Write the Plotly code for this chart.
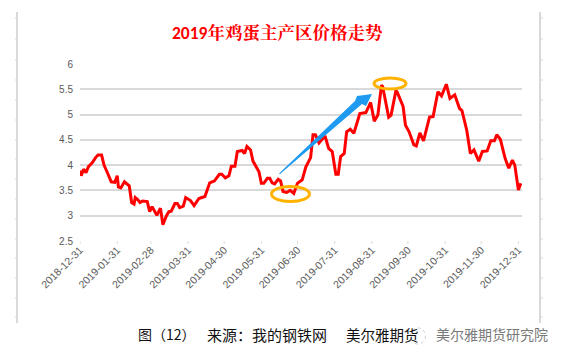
import plotly.graph_objects as go

dates = ["2018-12-31","2019-01-01","2019-01-03","2019-01-05","2019-01-07","2019-01-10","2019-01-13","2019-01-15","2019-01-18","2019-01-20","2019-01-23","2019-01-26","2019-01-29","2019-01-31",
"2019-02-01","2019-02-03","2019-02-06","2019-02-10","2019-02-12","2019-02-14","2019-02-15","2019-02-17","2019-02-19","2019-02-21","2019-02-25","2019-02-27",
"2019-03-01","2019-03-03","2019-03-05","2019-03-08","2019-03-10","2019-03-13","2019-03-15","2019-03-17","2019-03-20","2019-03-22","2019-03-24","2019-03-27","2019-03-29",
"2019-04-02","2019-04-05","2019-04-09","2019-04-14","2019-04-18","2019-04-22","2019-04-26","2019-04-28",
"2019-05-01","2019-05-04","2019-05-06","2019-05-09","2019-05-11","2019-05-15","2019-05-17","2019-05-19","2019-05-22","2019-05-24","2019-05-29","2019-05-31",
"2019-06-02","2019-06-05","2019-06-07","2019-06-09","2019-06-11","2019-06-14","2019-06-16","2019-06-18","2019-06-21","2019-06-24","2019-06-27","2019-06-30",
"2019-07-04","2019-07-07","2019-07-11","2019-07-13","2019-07-15","2019-07-18","2019-07-23","2019-07-26","2019-07-29",
"2019-08-01","2019-08-03","2019-08-05","2019-08-08","2019-08-10","2019-08-13","2019-08-16","2019-08-21","2019-08-26","2019-08-30",
"2019-09-02","2019-09-05","2019-09-08","2019-09-09","2019-09-14","2019-09-16","2019-09-20","2019-09-21","2019-09-26","2019-09-28",
"2019-10-01","2019-10-05","2019-10-07","2019-10-10","2019-10-13","2019-10-18","2019-10-21","2019-10-25","2019-10-28",
"2019-11-01","2019-11-04","2019-11-08","2019-11-12","2019-11-14","2019-11-17","2019-11-18","2019-11-21","2019-11-24","2019-11-28",
"2019-12-01","2019-12-05","2019-12-08","2019-12-11","2019-12-13","2019-12-16","2019-12-20","2019-12-23","2019-12-26","2019-12-28","2019-12-31","2020-01-02"]

prices = [3.89,3.79,3.92,3.85,3.97,4.04,4.15,4.20,4.20,4.00,3.84,3.67,3.66,3.79,
3.57,3.55,3.67,3.59,3.26,3.23,3.36,3.32,3.26,3.29,3.28,3.08,
3.18,3.08,3.01,3.15,2.82,3.00,3.08,3.09,3.24,3.24,3.16,3.19,3.36,
3.30,3.20,3.34,3.38,3.65,3.69,3.82,3.82,
3.75,3.79,3.98,3.98,4.27,4.29,4.23,4.37,4.30,4.08,3.87,3.64,
3.64,3.74,3.74,3.65,3.63,3.72,3.69,3.48,3.46,3.50,3.44,3.64,
3.71,3.96,4.15,4.60,4.60,4.44,4.58,4.33,4.27,
3.82,3.82,4.17,4.23,4.66,4.71,4.63,5.02,5.04,5.24,
4.87,4.99,5.58,5.55,4.95,4.99,5.47,5.45,5.16,4.79,
4.66,4.40,4.38,4.64,4.48,4.95,4.96,5.45,5.37,
5.60,5.32,5.39,5.12,5.08,4.75,4.69,4.23,4.30,4.08,
4.27,4.28,4.48,4.48,4.60,4.51,4.13,3.94,4.10,4.00,3.51,3.64]

tick_dates = ["2018-12-31","2019-01-31","2019-02-28","2019-03-31","2019-04-30","2019-05-31","2019-06-30","2019-07-31","2019-08-31","2019-09-30","2019-10-31","2019-11-30","2019-12-31"]
y_ticks = [2.5,3,3.5,4,4.5,5,5.5,6]
y_labels = ["2.5","3","3.5","4","4.5","5","5.5","6"]

title_year = "2019"
title_rest = "年鸡蛋主产区价格走势"
caption_a = "图（12）"
caption_b = "来源：我的钢铁网"
caption_c = "美尔雅期货"
watermark_text = "美尔雅期货研究院"

# All pixel positions below are page pixels; the page body has an 8px margin.
PAGE_W, PAGE_H, BODY = 563, 360, 8
L, R, T, B = 80, 522, 64, 241
px = lambda x: (x - L) / (R - L)
py = lambda y: (B - y) / (B - T)

def path(points):
    return "M " + " L ".join(f"{px(x):.4f},{py(y):.4f}" for x, y in points) + " Z"

def ell(cx, cy, rx, ry, color, width, fill="rgba(0,0,0,0)", dash="solid"):
    return dict(type="circle", xref="paper", yref="paper", x0=px(cx-rx), x1=px(cx+rx), y0=py(cy+ry), y1=py(cy-ry),
                line=dict(color=color, width=width, dash=dash), fillcolor=fill, layer="above")

def seg(x0, y0, x1, y1, color="#D9D9D9", width=1):
    return dict(type="line", xref="paper", yref="paper", x0=px(x0), x1=px(x1), y0=py(y0), y1=py(y1),
                line=dict(color=color, width=width), layer="below")

shapes = [seg(17, 12, 17, 323, width=2), seg(540, 12, 540, 323, width=2)]
for yy in [18, 39, 60, 80, 100, 120, 140, 159, 179, 199, 219, 239, 258, 278, 298, 317]:
    shapes.append(seg(15, yy, 17, yy))
    shapes.append(seg(540, yy, 543, yy))
for d in tick_dates:
    shapes.append(dict(type="line", xref="x", yref="paper", x0=d, x1=d, y0=py(241), y1=py(244),
                       line=dict(color="#D9D9D9", width=1), layer="below"))

shapes.append(ell(290.5, 194, 19, 7.5, "#FFB300", 3))
shapes.append(ell(390, 83.5, 16, 5.5, "#FFB300", 3))
shapes.append(dict(type="path", xref="paper", yref="paper", layer="above", fillcolor="#1E9BF0", line=dict(width=0),
                   path=path([(279, 173.5), (355, 101), (357, 96), (372, 94), (366, 106), (362, 104), (280, 174)])))
shapes.append(ell(418, 336, 7.5, 8, "#CCCCCC", 1, fill="rgba(255,255,255,0.8)", dash="dot"))

fig = go.Figure(go.Scatter(x=dates, y=prices, mode="lines", line=dict(color="#FF0000", width=3), hoverinfo="skip"))

def text(s, x, y, size, color, family, anchor="left", **kw):
    return dict(text=s, xref="paper", yref="paper", x=px(x), y=py(y), showarrow=False, xanchor=anchor, yanchor="middle",
                font=dict(family=family, size=size, color=color), **kw)

fig.update_layout(
    width=PAGE_W-BODY, height=PAGE_H-BODY, autosize=False, showlegend=False,
    paper_bgcolor="white", plot_bgcolor="white",
    margin=dict(l=L-BODY, r=PAGE_W-R, t=T-BODY, b=PAGE_H-B, pad=0),
    font=dict(family="Liberation Sans, Noto Sans CJK SC", color="#595959", size=10),
    shapes=shapes,
    annotations=[
        text(f'<b><span style="font-family:Carlito,Liberation Sans">{title_year}</span>{title_rest}</b>', 277, 32, 17.5,
             "#FF0000", "Noto Serif CJK SC, Noto Sans CJK SC", anchor="center"),
        text(caption_a, 136, 334, 14, "#111111", "Noto Sans CJK SC"),
        text(caption_b, 205, 334, 15, "#111111", "Noto Sans CJK SC"),
        text(caption_c, 344, 334, 14.5, "#111111", "Noto Sans CJK SC"),
        text(watermark_text, 434, 334, 14, "#7A7A7A", "Noto Sans CJK SC"),
    ],
)
fig.update_xaxes(type="date", range=["2018-12-31", "2020-01-03"], tickmode="array", tickvals=tick_dates, ticktext=tick_dates,
                 tickangle=-45, tickfont=dict(size=10.5, color="#595959"), showgrid=False, ticks="",
                 showline=False, zeroline=False)
fig.update_yaxes(range=[2.5, 6], tickmode="array", tickvals=y_ticks, ticktext=y_labels,
                 tickfont=dict(size=10, color="#595959"), showgrid=True, gridcolor="#D9D9D9", gridwidth=1.5,
                 showline=False, zeroline=False, ticks="", ticklen=0, ticklabelstandoff=6)
fig.write_html("out.html")
